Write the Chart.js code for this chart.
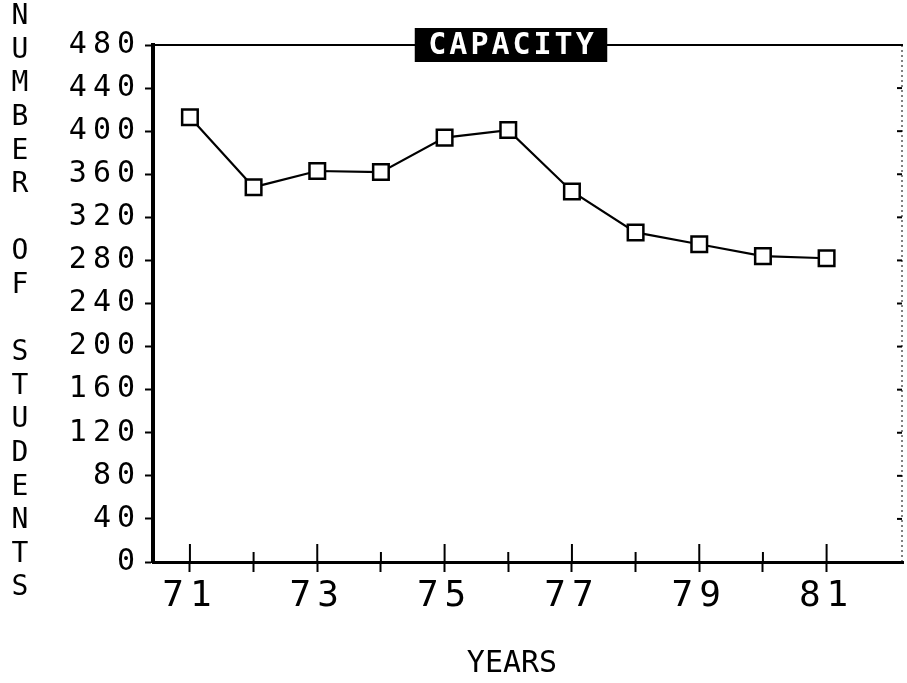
<!DOCTYPE html>
<html>
<head>
<meta charset="utf-8">
<title>Capacity</title>
<script src="https://cdn.jsdelivr.net/npm/chart.js@4/dist/chart.umd.min.js"></script>
<style>
    html, body { margin: 0; padding: 0; background: #fff; }
    #wrap { width: 907px; height: 683px; position: relative; }
</style>
</head>
<body>
<div id="wrap"><canvas id="capacityChart"></canvas></div>
<script>
// Enrollment vs. capacity, school years 71-81
const years = [71, 72, 73, 74, 75, 76, 77, 78, 79, 80, 81];
const students = [413, 348, 363, 362, 394, 401, 344, 306, 295, 284, 282];
const yTicks = [0, 40, 80, 120, 160, 200, 240, 280, 320, 360, 400, 440, 480];

const chartTitle = 'CAPACITY';
const xTitle = 'YEARS';
const yTitle = 'NUMBER OF STUDENTS';

const MONO = '"DejaVu Sans Mono", monospace';

// Frame, inner tick marks and the pixel-font titles the library has no option for
const framePlugin = {
    id: 'frame',
    beforeDraw: function (chart) {
        chart.ctx.letterSpacing = '6px';
    },
    afterDraw: function (chart) {
        const ctx = chart.ctx;
        const area = chart.chartArea;
        const xs = chart.scales.x;
        const ys = chart.scales.y;
        ctx.save();
        ctx.strokeStyle = '#000';
        ctx.lineCap = 'butt';

        // top border
        ctx.lineWidth = 2;
        ctx.beginPath();
        ctx.moveTo(area.left, area.top);
        ctx.lineTo(area.right, area.top);
        ctx.stroke();

        // dotted right border with small inward ticks
        ctx.lineWidth = 1;
        ctx.setLineDash([2, 3]);
        ctx.beginPath();
        ctx.moveTo(area.right - 1, area.top);
        ctx.lineTo(area.right - 1, area.bottom);
        ctx.stroke();
        ctx.setLineDash([]);
        ctx.lineWidth = 2;
        yTicks.forEach(function (v) {
            const py = ys.getPixelForValue(v);
            ctx.beginPath();
            ctx.moveTo(area.right - 1, py);
            ctx.lineTo(area.right - 6, py);
            ctx.stroke();
        });

        // x ticks reaching up into the plot (odd years taller)
        ctx.lineWidth = 2;
        years.forEach(function (yr) {
            const px = xs.getPixelForValue(yr);
            const up = (yr % 2 === 1) ? 18 : 10;
            ctx.beginPath();
            ctx.moveTo(px, area.bottom);
            ctx.lineTo(px, area.bottom - up);
            ctx.stroke();
        });

        // title box over the top border
        ctx.font = 'bold 30px ' + MONO;
        ctx.letterSpacing = '3px';
        const tx = area.left + 358;
        const tw = ctx.measureText(chartTitle).width;
        ctx.fillStyle = '#000';
        ctx.fillRect(tx - tw / 2 - 12, area.top - 17, tw + 24, 34);
        ctx.fillStyle = '#fff';
        ctx.textAlign = 'center';
        ctx.textBaseline = 'middle';
        ctx.fillText(chartTitle, tx + 1.5, area.top + 1);

        // x axis title
        ctx.fillStyle = '#000';
        ctx.font = '30px ' + MONO;
        ctx.letterSpacing = '0px';
        ctx.fillText(xTitle, area.left + 359, 664);

        // y axis title, one letter per row
        ctx.font = '28px ' + MONO;
        const letters = yTitle.split('');
        const step = 33.6;
        letters.forEach(function (ch, i) {
            if (ch !== ' ') ctx.fillText(ch, 20, 17 + i * step);
        });
        ctx.restore();
    }
};

new Chart(document.getElementById('capacityChart'), {
    type: 'line',
    data: {
        datasets: [{
            label: 'Students',
            data: years.map(function (yr, i) { return { x: yr, y: students[i] }; }),
            borderColor: '#000',
            borderWidth: 2.2,
            tension: 0,
            pointStyle: 'rect',
            pointRadius: 11,
            pointBorderWidth: 2.5,
            pointBorderColor: '#000',
            pointBackgroundColor: '#fff',
            fill: false
        }]
    },
    options: {
        responsive: true,
        maintainAspectRatio: false,
        animation: false,
        layout: { autoPadding: false, padding: { left: 0, top: 45, right: 4, bottom: 0 } },
        plugins: {
            legend: { display: false },
            tooltip: { enabled: false }
        },
        scales: {
            x: {
                type: 'linear',
                min: 70.42,
                max: 82.2,
                afterBuildTicks: function (scale) {
                    scale.ticks = years.map(function (v) { return { value: v }; });
                },
                afterFit: function (scale) {
                    scale.height = 121;
                    scale.paddingLeft = 0;
                    scale.paddingRight = 0;
                },
                ticks: {
                    autoSkip: false,
                    maxRotation: 0,
                    color: '#000',
                    padding: 3,
                    font: { family: MONO, size: 36 },
                    callback: function (v) { return (v % 2 === 1) ? String(v) : ''; }
                },
                grid: { drawOnChartArea: false, drawTicks: true, tickLength: 10, tickWidth: 2, tickColor: '#000' },
                border: { display: true, color: '#000', width: 3 }
            },
            y: {
                min: 0,
                max: 480,
                afterBuildTicks: function (scale) {
                    scale.ticks = yTicks.map(function (v) { return { value: v }; });
                },
                afterFit: function (scale) {
                    scale.width = 153;
                    scale.paddingTop = 0;
                    scale.paddingBottom = 0;
                },
                ticks: {
                    color: '#000',
                    padding: 4,
                    font: { family: MONO, size: 30 }
                },
                grid: { drawOnChartArea: false, drawTicks: true, tickLength: 8, tickWidth: 2, tickColor: '#000' },
                border: { display: true, color: '#000', width: 4 }
            }
        }
    },
    plugins: [framePlugin]
});
</script>
</body>
</html>
